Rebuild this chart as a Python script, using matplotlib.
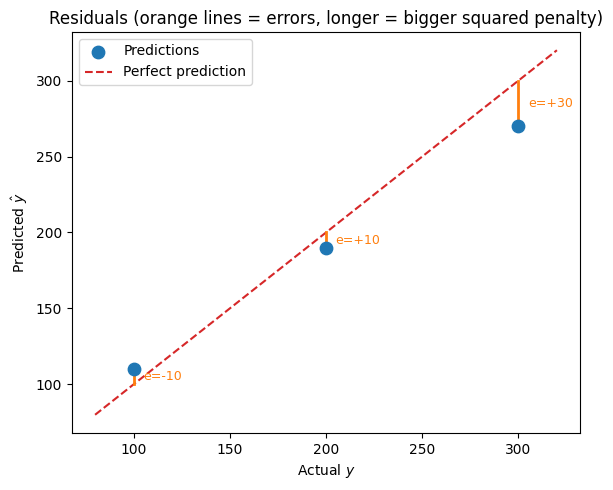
import numpy as np
from matplotlib import pyplot as plt

y_true = np.array([100, 200, 300])
y_pred = np.array([110, 190, 270])
line_range = [80, 320]

fig, ax = plt.subplots(figsize=(6.13, 4.9), dpi=100)

ax.scatter(y_true, y_pred, s=80, color='tab:blue', zorder=3, label='Predictions')
ax.plot(line_range, line_range, '--', color='tab:red', label='Perfect prediction')

# residual segments plus labels
for yt, yp in zip(y_true, y_pred):
    e = yt - yp
    ax.plot([yt, yt], [yt, yp], color='tab:orange', linewidth=2, zorder=2)
    ax.text(yt + 5, (yt + yp) / 2, f"e={e:+d}", color='tab:orange', fontsize=9, va='center')

ax.set_xlabel("Actual $y$")
ax.set_ylabel(r"Predicted $\hat{y}$")
ax.set_title("Residuals (orange lines = errors, longer = bigger squared penalty)")
ax.legend(loc='upper left')
fig.subplots_adjust(left=72/613, right=580/613, top=1-32/490, bottom=1-433/490)
plt.savefig('out.png')
